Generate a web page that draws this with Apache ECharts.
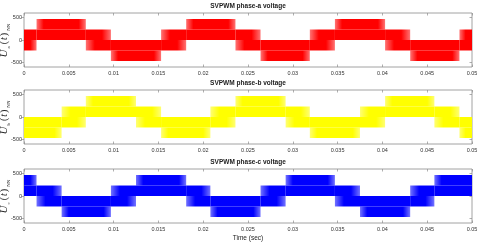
<!DOCTYPE html>
<html>
<head>
<meta charset="utf-8">
<script src="https://cdn.jsdelivr.net/npm/echarts@6/dist/echarts.min.js"></script>
<style>html,body{margin:0;padding:0;background:#fff}#c{width:480px;height:243px}</style>
</head>
<body>
<div id="c"></div>
<script>
// ---- data ----
const xTicks = [0, 0.005, 0.01, 0.015, 0.02, 0.025, 0.03, 0.035, 0.04, 0.045, 0.05];
const yTicks = [-500, 0, 500];
const titles = ['SVPWM phase-a voltage', 'SVPWM phase-b voltage', 'SVPWM phase-c voltage'];
const yNames = ['a', 'b', 'c'];

// band change instants (s) and lower/upper level of each band (V)
const edgesA = [0, 0.0014, 0.0069, 0.0097, 0.0153, 0.0181, 0.0236, 0.0264, 0.0319, 0.0347, 0.0403, 0.0431, 0.0486, 0.05];
const lowA   = [-233, 0, -233, -467, -233, 0, -233, -467, -233, 0, -233, -467, -233];
const highA  = [233, 467, 233, 0, 233, 467, 233, 0, 233, 467, 233, 0, 233];

const edgesB = [0, 0.0042, 0.0069, 0.0125, 0.0153, 0.0208, 0.0236, 0.0292, 0.0319, 0.0375, 0.0403, 0.0458, 0.0486, 0.05];
const lowB   = [-467, -233, 0, -233, -467, -233, 0, -233, -467, -233, 0, -233, -467];
const highB  = [0, 233, 467, 233, 0, 233, 467, 233, 0, 233, 467, 233, 0];

const edgesC = [0, 0.0014, 0.0042, 0.0097, 0.0125, 0.0181, 0.0208, 0.0264, 0.0292, 0.0347, 0.0375, 0.0431, 0.0458, 0.05];
const lowC   = [0, -233, -467, -233, 0, -233, -467, -233, 0, -233, -467, -233, 0];
const highC  = [467, 233, 0, 233, 467, 233, 0, 233, 467, 233, 0, 233, 467];

const colors = [[255, 0, 0], [255, 255, 0], [0, 0, 255]];

// ---- build ----
const T0 = 0, T1 = 0.05;
function buildItems(edges, lo, hi) {
  const items = [];
  for (let i = 0; i < lo.length; i++) {
    // kind: 0 = high band, 1 = low band, 2 = mid after high (falling), 3 = mid after low (rising)
    let kind;
    if (lo[i] >= 0) kind = 0;
    else if (hi[i] <= 0) kind = 1;
    else {
      const prevHigh = i > 0 ? lo[i - 1] >= 0 : !(lo[i + 1] >= 0);
      kind = prevHigh ? 2 : 3;
    }
    items.push([edges[i], edges[i + 1], lo[i], hi[i], kind]);
  }
  return items;
}
const sets = [buildItems(edgesA, lowA, highA), buildItems(edgesB, lowB, highB), buildItems(edgesC, lowC, highC)];

function rgba(c, a) { return 'rgba(' + c[0] + ',' + c[1] + ',' + c[2] + ',' + a + ')'; }

function makeRender(col) {
  const full = rgba(col, 1), light = rgba(col, 0.55);
  return function (params, api) {
    const t0 = api.value(0), t1 = api.value(1), lo = api.value(2), hi = api.value(3), kind = api.value(4);
    const mid = kind === 0 ? hi / 2 : (kind === 1 ? lo / 2 : 0);
    const pA = api.coord([t0, hi]), pB = api.coord([t1, lo]), pM = api.coord([t0, mid]);
    const x = pA[0], w = pB[0] - pA[0];
    const yTop = pA[1], yBot = pB[1], yMid = pM[1];
    const pxPerSec = params.coordSys.width / (T1 - T0);
    const fadeSec = kind >= 2 ? 0.0010 : 0.0008;
    function grad(fs, fe) {
      const f = Math.min(0.49, fadeSec * pxPerSec / w);
      const stops = [];
      if (fs) { stops.push({offset: 0, color: light}, {offset: f, color: full}); }
      else stops.push({offset: 0, color: full});
      if (fe) { stops.push({offset: 1 - f, color: full}, {offset: 1, color: light}); }
      else stops.push({offset: 1, color: full});
      return {type: 'linear', x: 0, y: 0, x2: 1, y2: 0, colorStops: stops};
    }
    const startTrue = t0 > T0, endTrue = t1 < T1;
    let upperFill, lowerFill;
    if (kind === 0) { upperFill = grad(startTrue, endTrue); lowerFill = full; }
    else if (kind === 1) { upperFill = full; lowerFill = grad(startTrue, endTrue); }
    else if (kind === 2) { upperFill = grad(false, endTrue); lowerFill = grad(startTrue, false); }
    else { upperFill = grad(startTrue, false); lowerFill = grad(false, endTrue); }
    return {
      type: 'group',
      children: [
        {type: 'rect', shape: {x: x, y: yTop, width: w, height: yMid - yTop}, style: {fill: upperFill}},
        {type: 'rect', shape: {x: x, y: yMid, width: w, height: yBot - yMid}, style: {fill: lowerFill}}
      ]
    };
  };
}

const gridTops = [13, 90, 169];
const gridH = 54;
const grids = [], xAxes = [], yAxes = [], series = [], graphics = [];
const fmtX = v => String(parseFloat(v.toFixed(4)));
const axisCol = '#8c8c8c';
const labelCol = '#333';

for (let k = 0; k < 3; k++) {
  grids.push({left: 24, right: 8, top: gridTops[k], height: gridH, show: true, borderColor: axisCol, borderWidth: 0.8,
              backgroundColor: 'transparent', containLabel: false, outerBoundsMode: 'none'});
  const bottomAxis = {
    gridIndex: k, type: 'value', min: 0, max: 0.05, interval: 0.005, position: 'bottom',
    axisLine: {show: false, onZero: false}, splitLine: {show: false},
    axisTick: {show: true, inside: true, length: 2.5, lineStyle: {color: axisCol, width: 0.7}},
    axisLabel: {show: true, fontSize: 5.5, color: labelCol, margin: 3, formatter: fmtX, fontFamily: 'Liberation Sans'}
  };
  if (k === 2) {
    bottomAxis.name = 'Time (sec)';
    bottomAxis.nameLocation = 'middle';
    bottomAxis.nameGap = 12;
    bottomAxis.nameMoveOverlap = false;
    bottomAxis.nameTextStyle = {fontSize: 6.5, color: '#222', fontFamily: 'Liberation Sans'};
  }
  xAxes.push(bottomAxis);
  xAxes.push({
    gridIndex: k, type: 'value', min: 0, max: 0.05, interval: 0.005, position: 'top',
    axisLine: {show: false, onZero: false}, splitLine: {show: false}, axisLabel: {show: false},
    axisTick: {show: true, inside: true, length: 2.5, lineStyle: {color: axisCol, width: 0.7}}
  });
  yAxes.push({
    gridIndex: k, type: 'value', min: -600, max: 600, position: 'left',
    axisLine: {show: false, onZero: false}, splitLine: {show: false},
    axisTick: {show: true, inside: false, length: 2.5, customValues: yTicks, lineStyle: {color: axisCol, width: 0.7}},
    axisLabel: {show: true, fontSize: 5.5, color: labelCol, margin: 2, customValues: yTicks, fontFamily: 'Liberation Sans'},
    name: '{U|U}{s|' + yNames[k] + '}{p|(}{t|t}{p|)}{s|NN}',
    nameLocation: 'middle', nameRotate: 90, nameGap: 13, nameMoveOverlap: false,
    nameTextStyle: {
      rich: {
        U: {fontFamily: 'Liberation Serif', fontStyle: 'italic', fontSize: 11, color: '#222', lineHeight: 13},
        t: {fontFamily: 'Liberation Serif', fontStyle: 'italic', fontSize: 10, color: '#222', lineHeight: 13},
        p: {fontFamily: 'Liberation Serif', fontSize: 10, color: '#222', lineHeight: 13, padding: [0, 1, 0, 1]},
        s: {fontFamily: 'Liberation Serif', fontSize: 5, color: '#222', lineHeight: 13, verticalAlign: 'bottom', padding: [4, 1, 0, 1]}
      }
    }
  });
  yAxes.push({
    gridIndex: k, type: 'value', min: -600, max: 600, position: 'right',
    axisLine: {show: false, onZero: false}, splitLine: {show: false}, axisLabel: {show: false},
    axisTick: {show: true, inside: true, length: 2.5, customValues: yTicks, lineStyle: {color: axisCol, width: 0.7}}
  });
  series.push({
    type: 'custom', xAxisIndex: 2 * k, yAxisIndex: 2 * k,
    renderItem: makeRender(colors[k]),
    encode: {x: [0, 1], y: [2, 3]},
    data: sets[k], silent: true, clip: true
  });
  graphics.push({
    type: 'text', x: 248, y: gridTops[k] - 7,
    style: {text: titles[k], font: 'bold 6.5px "Liberation Sans"', fill: '#222', textAlign: 'center', textVerticalAlign: 'middle'}
  });
}

const chart = echarts.init(document.getElementById('c'), null, {renderer: 'canvas'});
chart.setOption({
  animation: false,
  backgroundColor: '#fff',
  grid: grids, xAxis: xAxes, yAxis: yAxes, series: series, graphic: graphics
});
</script>
</body>
</html>
